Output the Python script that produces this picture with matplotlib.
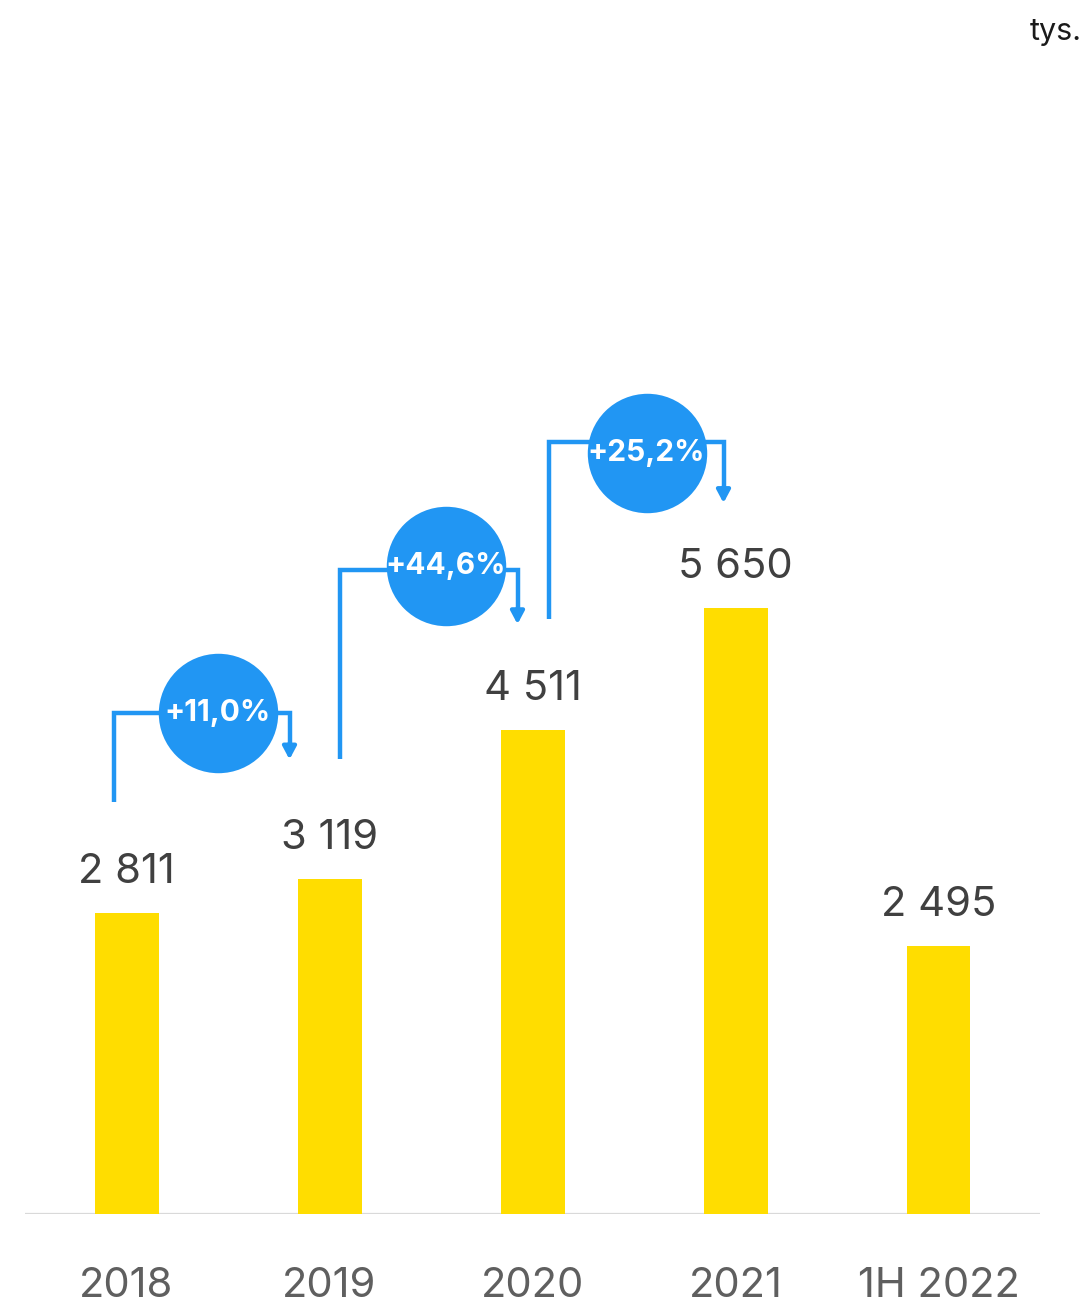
import matplotlib
matplotlib.use("Agg")
import matplotlib.pyplot as plt

plt.rcParams["font.family"] = ["Inter", "DejaVu Sans"]

# data
categories = ["2018", "2019", "2020", "2021", "1H 2022"]
values = [2811, 3119, 4511, 5650, 2495]
value_labels = ["2 811", "3 119", "4 511", "5 650", "2 495"]
growth_labels = ["+11,0%", "+44,6%", "+25,2%"]

YELLOW = "#FFDD00"
BLUE = "#2196F3"
TEXT = "#404040"
TICK = "#5f5f5f"

W, H = 1088, 1304
fig = plt.figure(figsize=(W / 100, H / 100), dpi=100)

# axes: 25..1040 px horizontally, baseline at 1214 px from top
base_px = 1214
ax = fig.add_axes([25 / W, (H - base_px) / H, (1040 - 25) / W, base_px / H])
px_per_unit = 606 / 5650          # vertical pixels per data unit
ymax = base_px / px_per_unit
ax.set_xlim(-0.5, len(categories) - 0.5)
ax.set_ylim(0, ymax)
ax.axis("off")


def py(px):
    return px / px_per_unit


def pxx(px):
    return px / 203.0


x = list(range(len(categories)))
ax.bar(x, values, width=pxx(64), color=YELLOW, zorder=2)
ax.axhline(0, color="#d9d9d9", lw=1.6, zorder=1)

for xi, v, lab in zip(x, values, value_labels):
    ax.text(xi, v + py(41), lab, ha="center", va="center",
            fontsize=30, color=TEXT)

for xi, c in zip(x, categories):
    ax.text(xi, -py(72), c, ha="center", va="center", fontsize=30,
            color=TICK, clip_on=False)

# growth brackets: (left leg offset, right leg offset, start gap, top gap, tip gap, circle dx, circle dy)
bracket_layout = [
    (-13, -40, 111, 166, 120, 91, 0),
    (10, -15, 120, 160, 106, 116, 4),
    (16, -12, 111, 166, 105, 114, -11),
]
for i, (lab, lay) in enumerate(zip(growth_labels, bracket_layout)):
    lx0, rx0, g0, gt, gtip, cdx, cdy = lay
    xl = i + pxx(lx0)
    xr = i + 1 + pxx(rx0)
    y0 = values[i] + py(g0)
    ytop = values[i + 1] + py(gt)
    ytip = values[i + 1] + py(gtip)
    ax.plot([xl, xl, xr, xr], [y0, ytop, ytop, ytip + py(14)],
            color=BLUE, lw=3.2, solid_joinstyle="miter", solid_capstyle="butt",
            zorder=3)
    ax.annotate("", xy=(xr, ytip), xytext=(xr, ytip + py(16)),
                arrowprops=dict(arrowstyle="-|>,head_length=0.75,head_width=0.4",
                                color=BLUE, lw=3, shrinkA=0, shrinkB=0),
                zorder=3)
    cx = i + pxx(cdx)
    cy = ytop + py(cdy)
    ax.scatter([cx], [cy], s=86 ** 2, color=BLUE, zorder=4, linewidths=0)
    ax.text(cx, cy, lab, ha="center", va="center", fontsize=21.5,
            fontweight="bold", color="white", zorder=5)

fig.text(1082 / W, 1 - 32 / H, "tys.", ha="right", va="center",
         fontsize=22, color="#1a1a1a")

fig.savefig("out.png", dpi=100, facecolor="white")
